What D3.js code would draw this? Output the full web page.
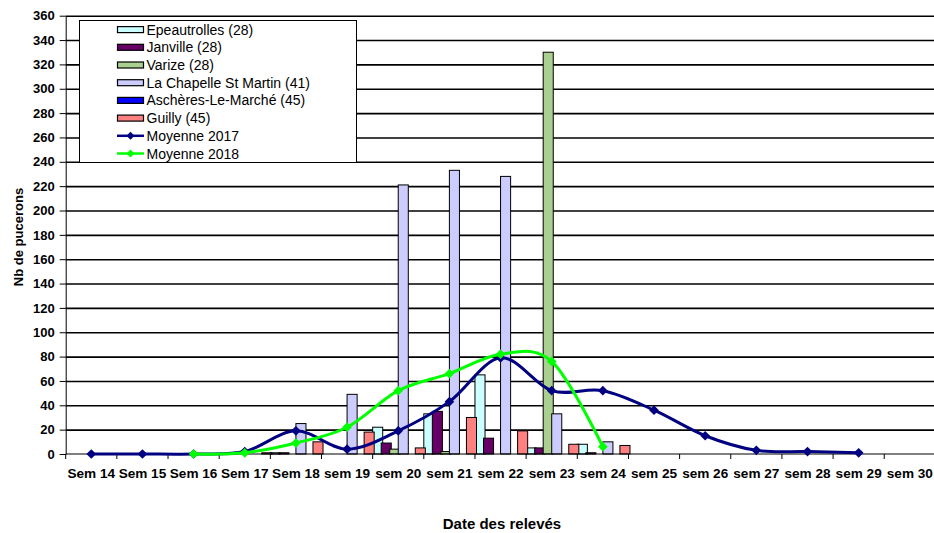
<!DOCTYPE html>
<html>
<head>
<meta charset="utf-8">
<script src="https://cdn.jsdelivr.net/npm/d3@7/dist/d3.min.js"></script>
<style>
    body { margin: 0; background: #fff; }
    #chart { width: 934px; height: 533px; }
    text { font-family: "Liberation Sans", Arial, sans-serif; }
    .grid line { stroke: #000; stroke-width: 1.6; }
    .grid path { display: none; }
    .axis path, .axis line { stroke: #000; stroke-width: 1; }
    .axis text { font-size: 13px; font-weight: bold; fill: #000; }
    .xaxis text { font-size: 13.6px; }
    .bar { stroke: #000; stroke-width: 1; }
</style>
</head>
<body>
<div id="chart"></div>
<script>

// weeks on the x axis
var weeks = ["Sem 14", "Sem 15", "Sem 16", "Sem 17", "Sem 18", "sem 19", "sem 20", "sem 21",
             "sem 22", "sem 23", "sem 24", "sem 25", "sem 26", "sem 27", "sem 28", "sem 29", "sem 30"];

// counts per site (null = no reading)
var epeautrolles = [null, null, null, null, 1, null, 22, 33, 65, 5, 8, null, null, null, null, null, null];
var janville     = [null, null, null, null, 1, null, 9, 35, 13, 5, 1, null, null, null, null, null, null];
var varize       = [null, null, null, null, null, null, 4, 2, null, 330, null, null, null, null, null, null, null];
var laChapelle   = [null, null, null, null, 25, 49, 221, 233, 228, 33, 10, null, null, null, null, null, null];
var ascheres     = [null, null, null, null, null, null, null, null, null, null, null, null, null, null, null, null, null];
var guilly       = [null, null, null, 1, 10, 18, 5, 30, 19, 8, 7, null, null, null, null, null, null];

// averages
var moyenne2017 = [0, 0, 0, 2, 19, 4, 19, 43, 79, 52, 52, 36, 15, 3, 2, 1, null];
var moyenne2018 = [null, null, 0, 1, 9, 22, 52, 66, 82, 76, 6, null, null, null, null, null, null];

var yTicks = [0, 20, 40, 60, 80, 100, 120, 140, 160, 180, 200, 220, 240, 260, 280, 300, 320, 340, 360];

var barSeries = [
    {name: "Epeautrolles (28)", values: epeautrolles, colour: "#CCFFFF"},
    {name: "Janville (28)", values: janville, colour: "#660066"},
    {name: "Varize (28)", values: varize, colour: "#A9D08E"},
    {name: "La Chapelle St Martin (41)", values: laChapelle, colour: "#CCCCFF"},
    {name: "Aschères-Le-Marché (45)", values: ascheres, colour: "#0000FF"},
    {name: "Guilly (45)", values: guilly, colour: "#FF8080"}
];
var lineSeries = [
    {name: "Moyenne 2017", values: moyenne2017, colour: "#000080"},
    {name: "Moyenne 2018", values: moyenne2018, colour: "#00FF00"}
];

var chart = document.getElementById("chart");
var width = 934, height = 533;
var plot = {left: 65.7, right: 935.4, top: 15.7, bottom: 454};

var svg = d3.select(chart).append("svg")
    .attr("width", width)
    .attr("height", height);

// set the ranges
var x0 = d3.scaleBand().domain(weeks).range([plot.left, plot.right]).padding(0);
var x1 = d3.scaleBand().domain(barSeries.map(function(s) { return s.name; }))
    .range([0, x0.bandwidth()]).padding(0);
var barWidth = x1.step() * 1.18;
var y = d3.scaleLinear().domain([0, 360]).range([plot.bottom, plot.top]);

// add the Y gridlines
svg.append("g")
    .attr("class", "grid")
    .attr("transform", "translate(" + plot.left + ",0)")
    .call(d3.axisRight(y)
        .tickValues(yTicks.slice(1))
        .tickSize(width - plot.left)
        .tickFormat(""));

// bars
barSeries.forEach(function(s) {
    svg.append("g").selectAll("rect")
        .data(s.values.map(function(v, i) { return {week: weeks[i], value: v}; })
            .filter(function(d) { return d.value != null; }))
        .enter().append("rect")
        .attr("class", "bar")
        .attr("x", function(d) { return x0(d.week) + x1(s.name); })
        .attr("y", function(d) { return y(d.value); })
        .attr("width", barWidth)
        .attr("height", function(d) { return plot.bottom - y(d.value); })
        .attr("fill", s.colour);
});

// add the Y Axis
svg.append("g")
    .attr("class", "axis")
    .attr("transform", "translate(" + plot.left + ",0)")
    .call(d3.axisLeft(y).tickValues(yTicks).tickSize(6).tickSizeOuter(0).tickPadding(5));

// add the X Axis (labels centered, ticks on band edges)
var xAxis = svg.append("g")
    .attr("class", "axis xaxis")
    .attr("transform", "translate(0," + plot.bottom + ")")
    .call(d3.axisBottom(x0).tickSize(0).tickSizeOuter(0).tickPadding(14));
xAxis.select(".domain").attr("d", "M" + plot.left + ",0H" + plot.right);
xAxis.selectAll(".edge")
    .data(weeks.concat(["end"]))
    .enter().append("line")
    .attr("class", "edge")
    .attr("x1", function(d, i) { return plot.left + i * x0.step(); })
    .attr("x2", function(d, i) { return plot.left + i * x0.step(); })
    .attr("y1", 0)
    .attr("y2", 5)
    .attr("stroke", "#000");

// smoothed average lines
var valueline = d3.line()
    .curve(d3.curveCatmullRom.alpha(0))
    .x(function(d) { return x0(d.week) + x0.bandwidth() / 2; })
    .y(function(d) { return y(d.value); });

var diamond = d3.symbol().type(d3.symbolDiamond2).size(60);

lineSeries.forEach(function(s) {
    var pts = s.values.map(function(v, i) { return {week: weeks[i], value: v}; })
        .filter(function(d) { return d.value != null; });
    svg.append("path")
        .datum(pts)
        .attr("fill", "none")
        .attr("stroke", s.colour)
        .attr("stroke-width", 3)
        .attr("d", valueline);
    svg.append("g").selectAll("path")
        .data(pts)
        .enter().append("path")
        .attr("d", diamond)
        .attr("fill", s.colour)
        .attr("transform", function(d) {
            return "translate(" + (x0(d.week) + x0.bandwidth() / 2) + "," + y(d.value) + ")";
        });
});

// legend
var legend = svg.append("g");
legend.append("rect")
    .attr("x", 79.5).attr("y", 20.5)
    .attr("width", 277).attr("height", 142)
    .attr("fill", "#fff")
    .attr("stroke", "#000")
    .attr("stroke-width", 1);

var rowY = function(i) { return 29.6 + i * 17.7; };

barSeries.forEach(function(s, i) {
    legend.append("rect")
        .attr("x", 117.5).attr("y", rowY(i) - 3)
        .attr("width", 26).attr("height", 6)
        .attr("fill", s.colour)
        .attr("stroke", "#000")
        .attr("stroke-width", 1.2);
    legend.append("text")
        .attr("x", 146.5).attr("y", rowY(i) + 5)
        .attr("font-size", "14px")
        .text(s.name);
});
lineSeries.forEach(function(s, j) {
    var i = barSeries.length + j;
    legend.append("line")
        .attr("x1", 117).attr("x2", 144)
        .attr("y1", rowY(i)).attr("y2", rowY(i))
        .attr("stroke", s.colour)
        .attr("stroke-width", 2.5);
    legend.append("path")
        .attr("d", d3.symbol().type(d3.symbolDiamond2).size(40))
        .attr("fill", s.colour)
        .attr("transform", "translate(130.5," + rowY(i) + ")");
    legend.append("text")
        .attr("x", 146.5).attr("y", rowY(i) + 5)
        .attr("font-size", "14px")
        .text(s.name);
});

// axis titles
svg.append("text")
    .attr("x", 502).attr("y", 529)
    .attr("text-anchor", "middle")
    .attr("font-size", "15px")
    .attr("font-weight", "bold")
    .text("Date des relevés");

svg.append("text")
    .attr("transform", "translate(23,237) rotate(-90)")
    .attr("text-anchor", "middle")
    .attr("font-size", "13px")
    .attr("font-weight", "bold")
    .text("Nb de pucerons");

</script>
</body>
</html>
